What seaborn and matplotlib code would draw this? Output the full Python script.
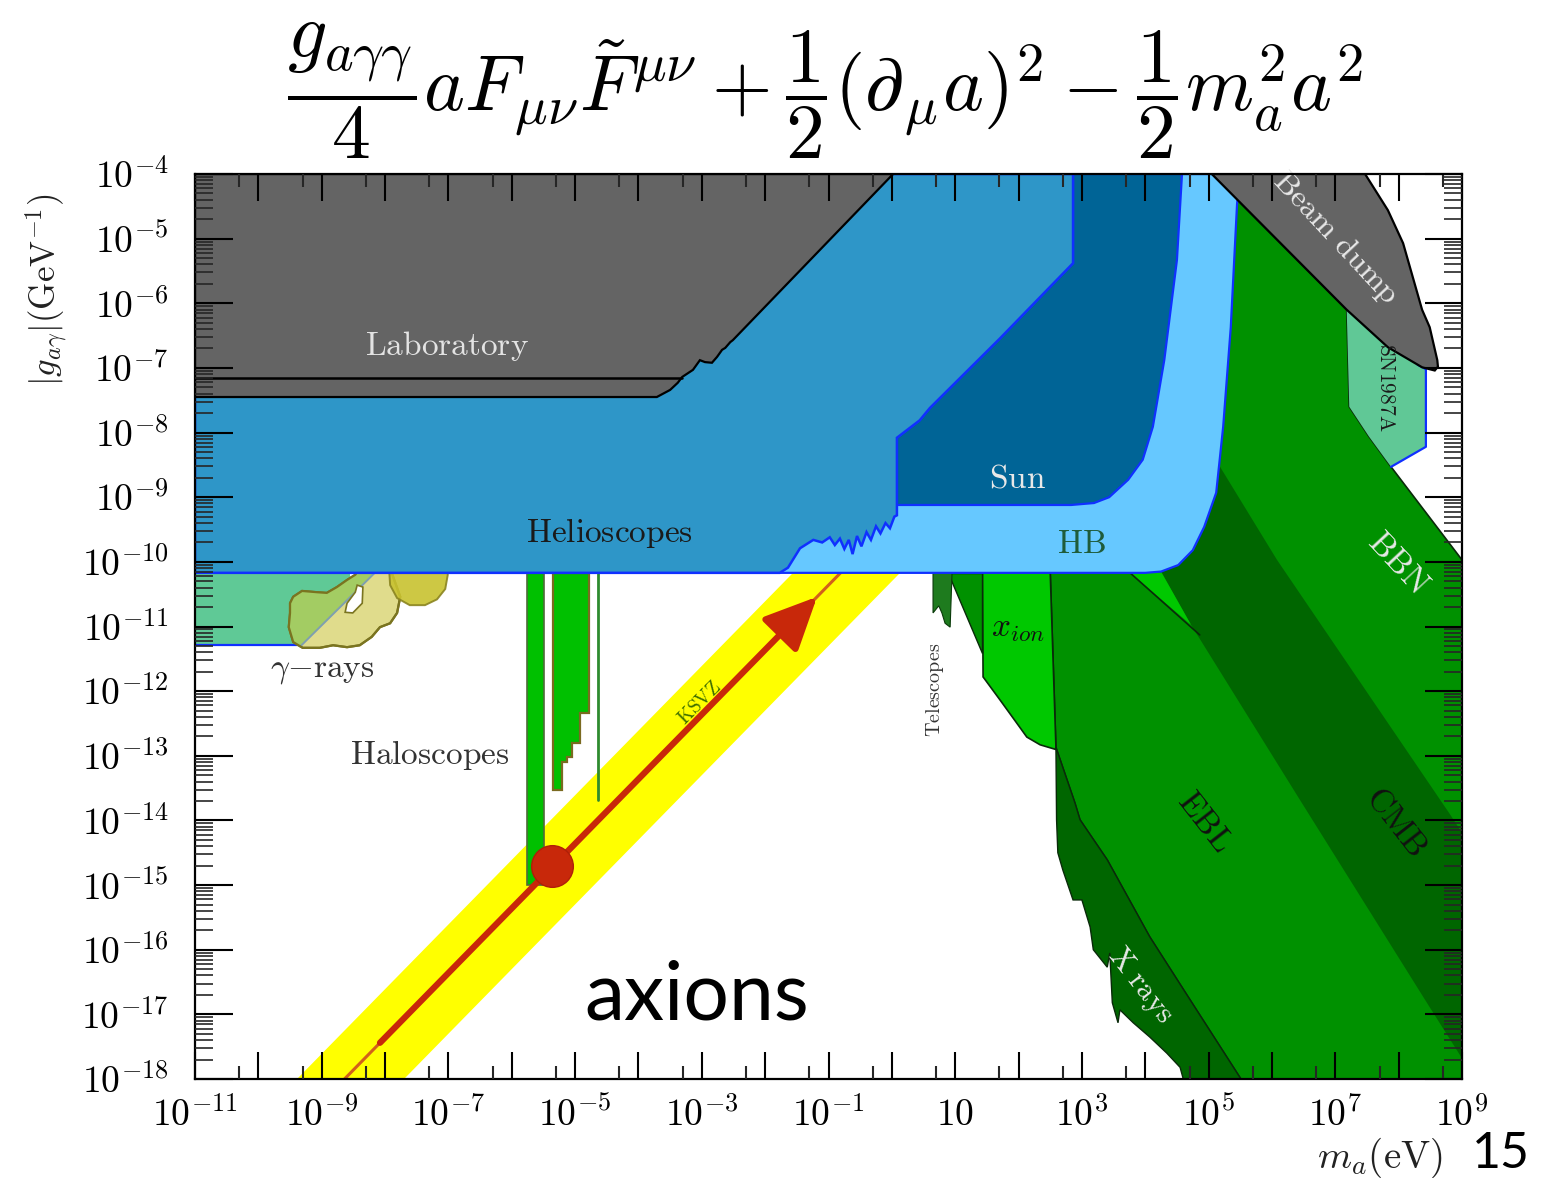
import numpy as np
import matplotlib
matplotlib.use("Agg")
import matplotlib.pyplot as plt
import seaborn as sns
import pandas as pd
from matplotlib.ticker import FixedLocator, FixedFormatter, LogLocator, NullFormatter

# ---------------- data (log10 of m_a [eV] and |g| [GeV^-1]) ----------------
x_major_exps = list(range(-11, 10))
x_label_exps = [-11, -9, -7, -5, -3, -1, 1, 3, 5, 7, 9]
x_labels = [r"$10^{-11}$", r"$10^{-9}$", r"$10^{-7}$", r"$10^{-5}$", r"$10^{-3}$",
            r"$10^{-1}$", r"$10$", r"$10^{3}$", r"$10^{5}$", r"$10^{7}$", r"$10^{9}$"]
y_major_exps = list(range(-18, -3))
y_labels = [r"$10^{-18}$", r"$10^{-17}$", r"$10^{-16}$", r"$10^{-15}$", r"$10^{-14}$",
            r"$10^{-13}$", r"$10^{-12}$", r"$10^{-11}$", r"$10^{-10}$", r"$10^{-9}$",
            r"$10^{-8}$", r"$10^{-7}$", r"$10^{-6}$", r"$10^{-5}$", r"$10^{-4}$"]

lab_logm = [-11, -11, -3.71, -3.50, -3.38, -3.31, -3.14, -3.03, -2.95, -2.84, -2.76, -2.68, -2.63, -2.55, -2.51, 0.02]
lab_logg = [-4.0, -7.45, -7.45, -7.34, -7.23, -7.14, -7.03, -6.88, -6.91, -6.92, -6.83, -6.72, -6.69, -6.60, -6.57, -4.0]
lab2_logm = [-11, -3.31]
lab2_logg = [-7.15, -7.15]

helio_logm = [-11, -11, -1.77, -1.64, -1.45, -1.24, -1.10, -0.98, -0.90, -0.82, -0.75, -0.68, -0.62,
              -0.55, -0.48, -0.40, -0.33, -0.25, -0.18, -0.10, -0.03, 0.04, 0.08, 0.08, 0.44, 0.60,
              1.71, 2.86, 2.86]
helio_logg = [-4.0, -10.17, -10.17, -10.09, -9.79, -9.66, -9.70, -9.62, -9.74, -9.64, -9.80, -9.66, -9.88,
              -9.60, -9.76, -9.54, -9.66, -9.45, -9.56, -9.40, -9.48, -9.30, -9.28, -8.08, -7.81, -7.62,
              -6.54, -5.38, -4.0]

sun_logm = [0.08, 0.08, 0.44, 0.60, 1.71, 2.86, 2.86, 4.58, 4.50, 4.30, 4.12, 3.96, 3.73, 3.43, 3.19, 2.83]
sun_logg = [-9.12, -8.08, -7.81, -7.62, -6.54, -5.38, -4.0, -4.0, -5.33, -6.88, -7.91, -8.42, -8.73, -9.0, -9.09, -9.12]

hb_logm = [-2.0, -2.0, 4.00, 4.25, 4.52, 4.75, 4.93, 5.12, 5.23, 5.35, 5.45, 5.50]
hb_logg = [-4.0, -10.17, -10.17, -10.15, -10.05, -9.82, -9.46, -8.93, -7.91, -6.37, -4.45, -4.0]

bd_logm = [5.05, 7.18, 7.83, 8.37, 8.57, 8.62, 8.61, 8.49, 8.37, 8.07, 7.83, 7.47]
bd_logg = [-4.0, -6.10, -6.68, -6.99, -7.04, -6.98, -6.88, -6.37, -6.10, -5.07, -4.56, -4.0]

sn_logm = [7.18, 7.22, 7.53, 7.88, 8.43, 8.43, 8.30, 7.83]
sn_logg = [-6.10, -7.60, -8.06, -8.53, -8.22, -7.02, -6.95, -6.68]
sn_edge_logm = [8.30, 8.43, 8.43, 7.88]
sn_edge_logg = [-6.95, -7.02, -8.22, -8.53]

bbn_logm = [2.45, 2.50, 2.59, 2.89, 2.97, 3.40, 4.07, 4.71, 5.51, 9.0, 9.0, 7.88, 7.53, 7.22, 7.18, 5.05, 4.0, 4.0]
bbn_logg = [-9.5, -10.17, -12.87, -13.73, -13.99, -14.61, -15.80, -16.78, -18.0, -18.0, -9.97, -8.53, -8.06, -7.60, -6.10, -4.0, -4.0, -9.5]

cmb_logm = [4.0, 4.26, 4.72, 6.44, 8.49, 9.0, 9.0, 8.80, 6.08, 5.05]
cmb_logg = [-9.0, -10.17, -10.97, -13.68, -16.89, -17.68, -14.19, -13.89, -9.97, -8.32]

xray_logm = [2.59, 2.60, 2.62, 2.70, 2.86, 3.00, 3.13, 3.18, 3.40, 3.44, 3.48, 3.57, 3.60, 3.81, 4.07,
             4.34, 4.55, 4.60, 5.51, 4.71, 4.07, 3.40, 2.97, 2.89]
xray_logg = [-12.87, -13.99, -14.50, -14.77, -15.23, -15.23, -15.65, -16.00, -16.27, -16.05, -16.82, -17.13,
             -16.93, -17.13, -17.35, -17.60, -17.82, -18.0, -18.0, -16.78, -15.80, -14.61, -13.99, -13.73]

xion_logm = [1.43, 2.50, 2.59, 2.58, 2.34, 2.13, 2.02, 1.71, 1.44]
xion_logg = [-10.17, -10.17, -12.87, -12.90, -12.83, -12.71, -12.56, -12.14, -11.78]

wedge_logm = [0.89, 1.43, 1.43]
wedge_logg = [-10.17, -10.17, -11.41]

tri_logm = [3.76, 4.26, 4.72]
tri_logg = [-10.17, -10.17, -10.97]
tri_line_logm = [3.76, 4.86]
tri_line_logg = [-10.17, -11.13]

tel_logm = [0.65, 0.95, 0.92, 0.84, 0.79, 0.74, 0.65]
tel_logg = [-10.17, -10.17, -11.01, -10.95, -10.79, -10.68, -10.79]

gam_logm = [-11, -8.55, -8.55, -11]
gam_logg = [-10.17, -10.17, -11.29, -11.29]
gam_edge_logm = [-11, -9.34]
gam_edge_logg = [-11.29, -11.29]

blob_logm = [-9.50, -9.45, -9.31, -9.07, -8.92, -8.76, -8.60, -8.47, -8.40, -8.13, -7.92, -7.76, -7.81,
             -7.92, -8.08, -8.21, -8.40, -8.60, -8.82, -9.03, -9.30, -9.45, -9.52, -9.50]
blob_logg = [-10.64, -10.54, -10.45, -10.47, -10.48, -10.39, -10.28, -10.20, -10.10, -10.10, -10.10, -10.54,
             -10.79, -10.95, -11.01, -11.16, -11.29, -11.32, -11.29, -11.33, -11.33, -11.24, -11.01, -10.79]
gblob_logm = [-9.50, -9.45, -9.31, -9.07, -8.92, -8.76, -8.60, -8.47, -8.40, -8.09, -9.34, -9.45, -9.52, -9.50]
gblob_logg = [-10.64, -10.54, -10.45, -10.47, -10.48, -10.39, -10.28, -10.20, -10.10, -10.10, -11.31, -11.24,
              -11.01, -10.79]
divider_logm = [-9.34, -8.09]
divider_logg = [-11.31, -10.10]
hole_logm = [-8.44, -8.35, -8.36, -8.51, -8.63, -8.60, -8.47]
hole_logg = [-10.36, -10.39, -10.64, -10.79, -10.78, -10.64, -10.47]
olive_logm = [-7.94, -7.92, -7.81, -7.61, -7.37, -7.18, -7.05, -7.01, -7.02]
olive_logg = [-10.05, -10.36, -10.56, -10.67, -10.67, -10.58, -10.42, -10.20, -10.05]

admx_logm = [-5.76, -5.49, -5.49, -5.76]
admx_logg = [-10.17, -10.17, -15.0, -15.0]
halo2_logm = [-5.35, -4.78, -4.78, -4.92, -4.92, -5.05, -5.05, -5.13, -5.13, -5.21, -5.21, -5.35]
halo2_logg = [-10.17, -10.17, -12.34, -12.34, -12.80, -12.80, -13.02, -13.02, -13.10, -13.10, -13.53, -13.53]
halo3_logm = [-4.64, -4.64]
halo3_logg = [-10.17, -13.68]

band_logm = [-9.39, -7.70, 0.80, -0.89]
band_logg = [-18.0, -18.0, -9.5, -9.5]
ksvz_logm = [-8.64, -0.81]
ksvz_logg = [-18.0, -10.17]
arrow_logm = [-8.08, -1.18]
arrow_logg = [-17.44, -10.54]
dot_logm = [-5.36]
dot_logg = [-14.70]

# ---------------- style ----------------
sns.set_theme(style="ticks")
plt.rcParams["mathtext.fontset"] = "cm"
plt.rcParams["font.family"] = ["DejaVu Sans"]
plt.rcParams["axes.unicode_minus"] = True

fig = plt.figure(figsize=(15.43, 11.78), dpi=100)
ax = fig.add_axes([0.12638, 0.08404, 0.82113, 0.76825])
ax.set_xscale("log")
ax.set_yscale("log")
ax.set_xlim(1e-11, 1e9)
ax.set_ylim(1e-18, 1e-4)


def P(a):
    return 10.0 ** np.asarray(a, dtype=float)


def fill(lm, lg, color, z, ec="none", lw=0.0, alpha=1.0):
    ax.fill(P(lm), P(lg), facecolor=color, edgecolor=ec, linewidth=lw, zorder=z, alpha=alpha)


def line(lm, lg, color, lw, z):
    df = pd.DataFrame({"m": P(lm), "g": P(lg)})
    sns.lineplot(data=df, x="m", y="g", color=color, linewidth=lw, zorder=z, ax=ax,
                 estimator=None, sort=False, legend=False)


# yellow band + KSVZ line
fill(band_logm, band_logg, "#FFFF00", 1.0)
line(ksvz_logm, ksvz_logg, "#D2601A", 2.2, 1.5)

# gamma rays
fill(gam_logm, gam_logg, "#5FC996", 1.6)
line(gam_edge_logm, gam_edge_logg, "#1030FF", 1.6, 1.7)
fill(blob_logm, blob_logg, "#E0DC8C", 1.8, ec="#7A7420", lw=1.6)
fill(gblob_logm, gblob_logg, "#A3CC63", 1.85)
line(divider_logm, divider_logg, "#7F9FB0", 1.4, 1.9)
fill(blob_logm, blob_logg, "none", 1.92, ec="#7A7420", lw=1.6)
fill(olive_logm, olive_logg, "#C8C230", 1.95, ec="#8A8420", lw=1.4, alpha=0.9)
fill(hole_logm, hole_logg, "white", 1.97, ec="#7A7420", lw=1.2)

# haloscopes
fill(admx_logm, admx_logg, "#00C000", 2.0, ec="#4F6B3A", lw=1.2)
fill(halo2_logm, halo2_logg, "#00C000", 2.0, ec="#7A6A20", lw=1.6)
line(halo3_logm, halo3_logg, "#2E8B2E", 2.0, 2.0)

# greens
fill(bbn_logm, bbn_logg, "#009100", 2.0, ec="#0A2A0A", lw=1.2)
fill(cmb_logm, cmb_logg, "#006600", 2.05)
fill(xray_logm, xray_logg, "#006600", 2.1, ec="#0A2A0A", lw=1.0)
fill(xion_logm, xion_logg, "#00C800", 2.15, ec="#0A2A0A", lw=1.2)
fill(wedge_logm, wedge_logg, "#009100", 2.15, ec="#0A2A0A", lw=1.0)
fill(tri_logm, tri_logg, "#00C800", 2.15)
line(tri_line_logm, tri_line_logg, "#0A2A0A", 1.2, 2.2)
fill(tel_logm, tel_logg, "#1E7B1E", 2.2, ec="#0A3A0A", lw=0.8)

# KSVZ arrow and dot
ax.annotate("", xy=(P(arrow_logm[1]), P(arrow_logg[1])), xytext=(P(arrow_logm[0]), P(arrow_logg[0])),
            arrowprops=dict(arrowstyle="-|>,head_length=0.9,head_width=0.42", color="#C8280A",
                            lw=4.5, mutation_scale=36, shrinkA=0, shrinkB=0), zorder=2.6)
sns.scatterplot(x=P(dot_logm), y=P(dot_logg), s=900, color="#C8280A", edgecolor="#B02008",
                linewidth=1, zorder=2.7, ax=ax, legend=False)

# astrophysical / lab regions
fill(hb_logm, hb_logg, "#66C8FF", 4.0, ec="#1030FF", lw=1.6)
fill(sun_logm, sun_logg, "#006496", 4.2, ec="#1030FF", lw=1.6)
fill(helio_logm, helio_logg, "#2E96C8", 4.3, ec="#1030FF", lw=1.8)
fill(lab_logm, lab_logg, "#646464", 4.5, ec="black", lw=1.6)
line(lab2_logm, lab2_logg, "black", 1.8, 4.6)
fill(sn_logm, sn_logg, "#60C896", 4.4)
line(sn_edge_logm, sn_edge_logg, "#1030FF", 1.6, 4.45)
fill(bd_logm, bd_logg, "#646464", 4.5, ec="black", lw=1.6)


def rm(s):
    return r"$\mathrm{" + s.replace(" ", r"\ ") + "}$"


def label(lm, lg, s, color, size, rot=0):
    ax.text(10.0 ** lm, 10.0 ** lg, s, color=color, fontsize=size, rotation=rot,
            ha="center", va="center", rotation_mode="anchor", zorder=8)


label(-7.02, -6.66, rm("Laboratory"), "#E3E3E3", 24)
label(-4.46, -9.55, rm("Helioscopes"), "#1A1A1A", 24)
label(1.99, -8.70, rm("Sun"), "#E8E8E8", 24)
label(2.99, -9.71, rm("HB"), "#1F5C3A", 24)
label(7.0, -4.99, rm("Beam dump"), "#E8E8E8", 23, -47)
label(7.80, -7.30, rm("SN1987A"), "#1A1A1A", 15.5, -90)
label(7.99, -10.02, rm("BBN"), "#E8E8E8", 24, -47)
label(7.97, -14.02, rm("CMB"), "#111111", 24, -52)
label(4.94, -14.02, rm("EBL"), "#111111", 24, -52)
label(3.92, -16.55, rm("X rays"), "#E8E8E8", 22, -52)
label(1.99, -11.01, r"$x_{ion}$", "#111111", 24)
label(0.68, -11.98, rm("Telescopes"), "#333333", 14.5, 90)
label(-9.0, -11.67, r"$\gamma\mathrm{-rays}$", "#333333", 24)
label(-7.29, -12.99, rm("Haloscopes"), "#333333", 24)
label(-3.03, -12.18, rm("KSVZ"), "#3F6F00", 14, 45)
ax.text(10.0 ** -3.08, 10.0 ** -16.73, "axions", fontsize=58, fontfamily="Lato", color="black",
        ha="center", va="center", zorder=8)

# ---------------- axes ----------------
ax.xaxis.set_major_locator(FixedLocator(P(x_major_exps)))
lab_map = dict(zip(x_label_exps, x_labels))
ax.xaxis.set_major_formatter(FixedFormatter([lab_map.get(e, "") for e in x_major_exps]))
ax.xaxis.set_minor_locator(FixedLocator(5.0 * P(x_major_exps[:-1])))
ax.xaxis.set_minor_formatter(NullFormatter())
ax.yaxis.set_major_locator(FixedLocator(P(y_major_exps)))
ax.yaxis.set_major_formatter(FixedFormatter(y_labels))
ax.yaxis.set_minor_locator(LogLocator(base=10, subs=np.arange(2, 10), numticks=100))
ax.yaxis.set_minor_formatter(NullFormatter())

ax.tick_params(axis="x", which="major", direction="in", length=19.5, width=1.5, top=True, bottom=True,
               labelsize=27, pad=13, colors="black")
ax.tick_params(axis="x", which="minor", direction="in", length=9.5, width=1.5, top=True, bottom=True)
ax.tick_params(axis="y", which="major", direction="in", length=27, width=1.5, left=True, right=True,
               labelsize=27, pad=19, colors="black")
ax.tick_params(axis="y", which="minor", direction="in", length=13, width=1.2, left=True, right=True)
ax.xaxis.set_zorder(10)
ax.yaxis.set_zorder(10)
for sp in ax.spines.values():
    sp.set_color("black")
    sp.set_linewidth(1.6)
    sp.set_zorder(10)
ax.set_xlabel("")
ax.set_ylabel("")

fig.text(0.030, 0.754, r"$|g_{a\gamma}|(\mathrm{GeV}^{-1})$", rotation=90, fontsize=25,
         ha="center", va="center", color="#222222")
fig.text(0.894, 0.017, r"$m_a(\mathrm{eV})$", fontsize=28, ha="center", va="center", color="#222222")
fig.text(0.973, 0.020, "15", fontsize=36, fontfamily="Lato", ha="center", va="center", color="black")
fig.text(0.535, 0.923,
         r"$\dfrac{g_{a\gamma\gamma}}{4}aF_{\mu\nu}\tilde{F}^{\mu\nu}+\dfrac{1}{2}(\partial_\mu a)^2-\dfrac{1}{2}m_a^2a^2$",
         fontsize=56, ha="center", va="center", color="black")

fig.savefig("out.png", dpi=100, facecolor="white")
